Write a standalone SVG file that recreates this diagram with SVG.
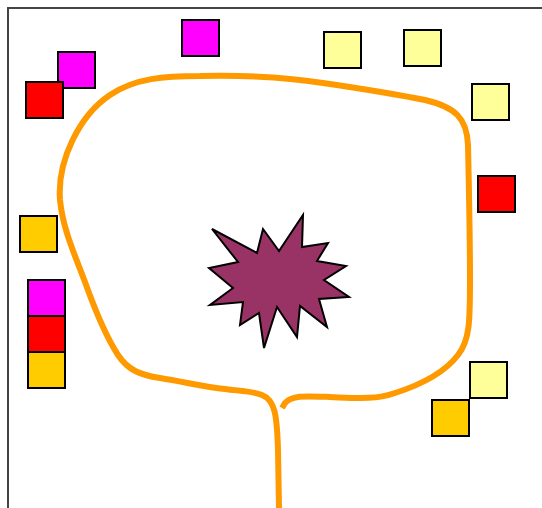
<svg xmlns="http://www.w3.org/2000/svg" width="542" height="508" viewBox="0 0 542 508">
<style>
.sq{stroke:#000;stroke-width:2}
.m{fill:#FF00FF}.r{fill:#FF0000}.y{fill:#FFFF99}.g{fill:#FFCC00}
</style>
<rect width="542" height="508" fill="#fff"/>
<path d="M8,508 V8 H542" fill="none" stroke="#444" stroke-width="2"/>
<g id="connectors">
<path d="M279,508 L278,450 C277,415 275,400 262,395 C252,391 240,391 225,389 C205,387 185,382 160,378 C140,375 128,370 118,355 C105,335 95,310 85,282 C75,255 63,230 60,200 C57,160 80,115 110,95 C135,78 165,76 200,76 C240,75 280,76 330,84 C370,90 400,95 425,100 C455,107 467,118 468,145 C469,190 470,240 470,280 C470,320 470,340 458,355 C445,372 420,385 395,393 C375,400 355,398 330,397 C305,396 292,395 285,403 L282,408" fill="none" stroke="#FF9900" stroke-width="6"/>
</g>
<g id="star"><polygon points="212,229 257,253 263,229 279,251 303,215 302,247 328,243 317,261 346,266 324,280 349,297 319,299 327,327 300,306 297,337 277,307 264,348 259,313 240,325 243,302 210,305 233,288 209,268 238,262" fill="#993366" stroke="#000" stroke-width="2"/></g>
<g id="n1"><rect class="sq m" x="182" y="20" width="37" height="36"/></g>
<g id="n2"><rect class="sq y" x="324" y="32" width="37" height="36"/></g>
<g id="n3"><rect class="sq y" x="404" y="30" width="37" height="36"/></g>
<g id="n4"><rect class="sq m" x="58" y="52" width="37" height="36"/></g>
<g id="n5"><rect class="sq r" x="26" y="82" width="37" height="36"/></g>
<g id="n6"><rect class="sq y" x="472" y="84" width="37" height="36"/></g>
<g id="n7"><rect class="sq r" x="478" y="176" width="37" height="36"/></g>
<g id="n8"><rect class="sq g" x="20" y="216" width="37" height="36"/></g>
<g id="n9"><rect class="sq m" x="28" y="280" width="37" height="36"/></g>
<g id="n10"><rect class="sq r" x="28" y="316" width="37" height="36"/></g>
<g id="n11"><rect class="sq g" x="28" y="352" width="37" height="36"/></g>
<g id="n12"><rect class="sq y" x="470" y="362" width="37" height="36"/></g>
<g id="n13"><rect class="sq g" x="432" y="400" width="37" height="36"/></g>
</svg>
